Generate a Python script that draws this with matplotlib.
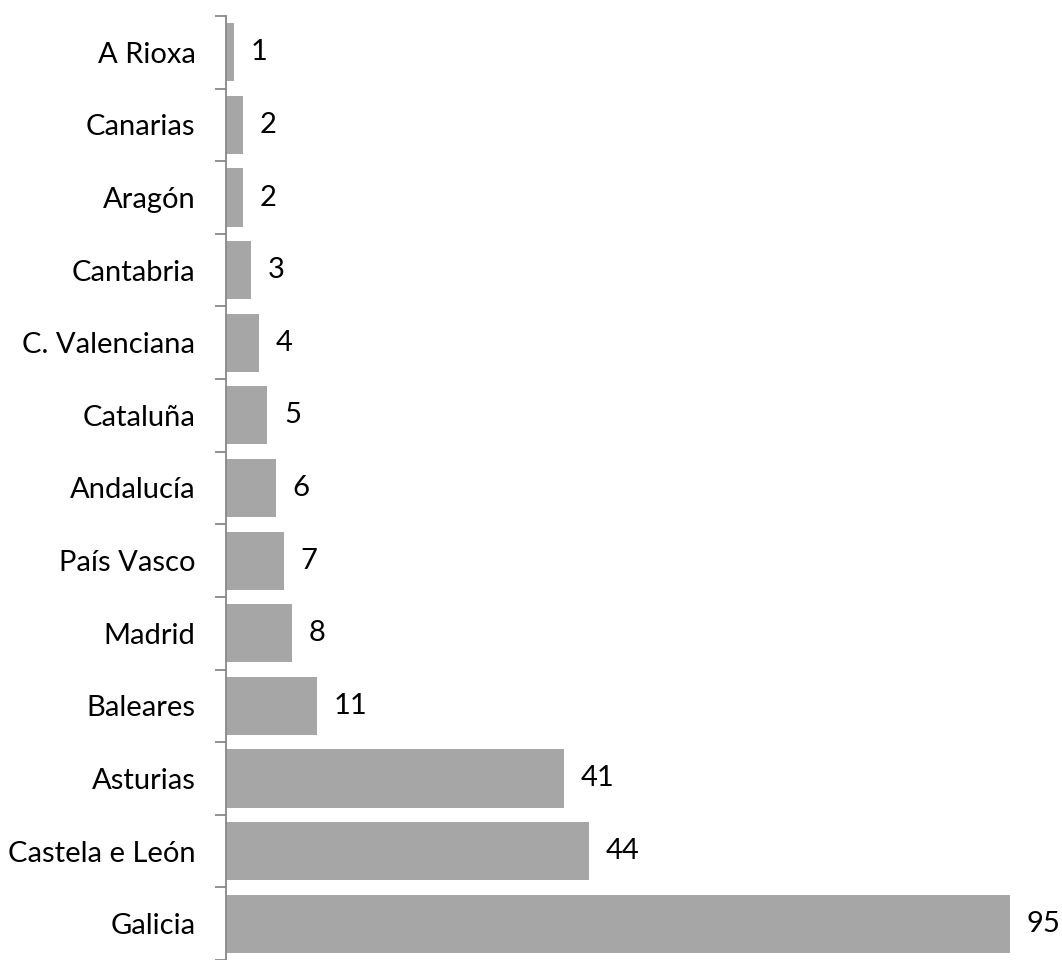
import matplotlib.pyplot as plt
import numpy as np

regions = ['A Rioxa', 'Canarias', 'Aragón', 'Cantabria', 'C. Valenciana', 'Cataluña',
           'Andalucía', 'País Vasco', 'Madrid', 'Baleares', 'Asturias',
           'Castela e León', 'Galicia']
counts = [1, 2, 2, 3, 4, 5, 6, 7, 8, 11, 41, 44, 95]

plt.rcParams['font.family'] = ['Lato', 'DejaVu Sans']

fig = plt.figure(figsize=(10.62, 9.6), dpi=100)
ax = fig.add_axes([226 / 1062, 0.0, 1 - 226 / 1062, 1 - 16 / 960])

n = len(regions)
y = np.arange(n)[::-1]
ax.barh(y, counts, height=0.8, color='#A6A6A6')

for yi, c in zip(y, counts):
    ax.annotate(str(c), (c, yi), xytext=(12, 0), textcoords='offset points',
                va='center', ha='left', fontsize=21, color='black')

ax.set_xlim(0, 101.3)
ax.set_ylim(-0.5, n - 0.5)
ax.set_yticks(y)
ax.set_yticklabels(regions, fontsize=21)
ax.set_yticks(np.arange(n + 1) - 0.5, minor=True)
ax.tick_params(axis='y', which='major', length=0, pad=22)
ax.tick_params(axis='y', which='minor', length=8, width=1.3, color='#888888')
ax.set_xticks([])
for s in ['top', 'right', 'bottom']:
    ax.spines[s].set_visible(False)
ax.spines['left'].set_color('#888888')
ax.spines['left'].set_linewidth(1.3)

fig.savefig('out.png', dpi=100)
